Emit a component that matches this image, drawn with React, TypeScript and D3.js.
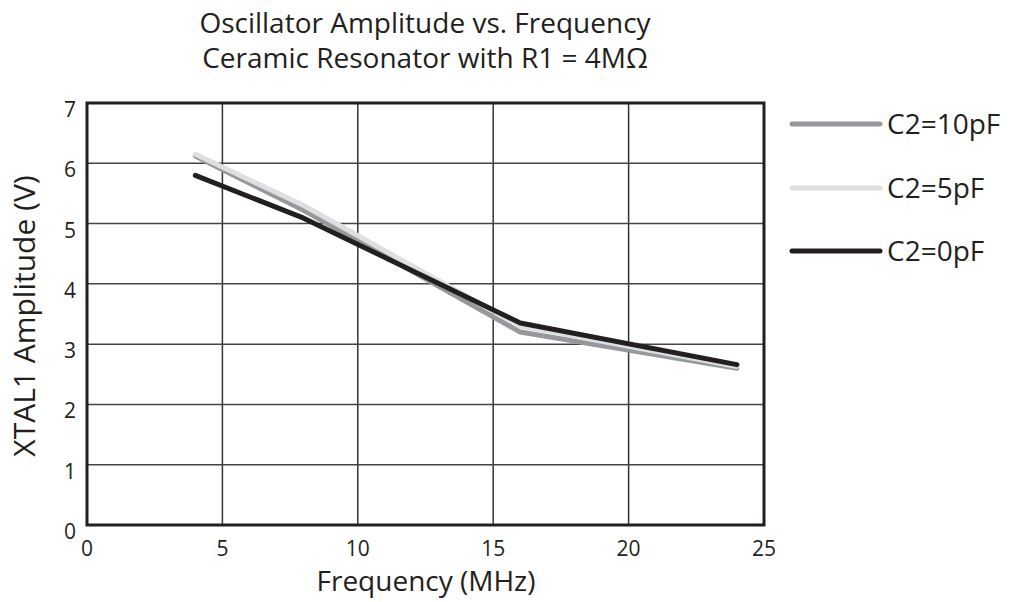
import React from "react";
import * as d3 from "d3";

const freqs10 = [4, 8, 16, 24];
const amp10 = [6.12, 5.22, 3.2, 2.6];
const freqs5 = [4, 8, 16, 24];
const amp5 = [6.15, 5.3, 3.3, 2.63];
const freqs0 = [4, 8, 16, 24];
const amp0 = [5.8, 5.09, 3.35, 2.66];
const seriesNames = ["C2=10pF", "C2=5pF", "C2=0pF"];
const seriesColors = ["#97989b", "#dedfe1", "#231f20"];
const xTicks = [0, 5, 10, 15, 20, 25];
const yTicks = [0, 1, 2, 3, 4, 5, 6, 7];
const titleLines = ["Oscillator Amplitude vs. Frequency", "Ceramic Resonator with R1 = 4MΩ"];
const xLabel = "Frequency (MHz)";
const yLabel = "XTAL1 Amplitude (V)";

export default function App() {
  const W = 1024, H = 602;
  const L = 87, R = 764, T = 103, B = 525;
  const x = d3.scaleLinear().domain([0, 25]).range([L, R]);
  const y = d3.scaleLinear().domain([0, 7]).range([B, T]);
  const line = d3.line<[number, number]>().x(d => x(d[0])).y(d => y(d[1]));
  const series = [
    freqs10.map((f, i) => [f, amp10[i]] as [number, number]),
    freqs5.map((f, i) => [f, amp5[i]] as [number, number]),
    freqs0.map((f, i) => [f, amp0[i]] as [number, number]),
  ];
  const font = "'Open Sans', 'Noto Sans', sans-serif";
  const legendY = [124, 188, 251];
  const ink = "#231f20";
  return (
    <svg width={W} height={H} style={{ position: "absolute", left: 0, top: 0, background: "#fff" }} fontFamily={font}>
      {titleLines.map((t, i) => (
        <text key={t} x={425} y={33 + i * 35} textAnchor="middle" fontSize={28} fill={ink}>{t}</text>
      ))}
      {xTicks.slice(1, -1).map(v => (
        <line key={"gx" + v} x1={x(v)} x2={x(v)} y1={T} y2={B} stroke="#333" strokeWidth={1.5} />
      ))}
      {yTicks.slice(1, -1).map(v => (
        <line key={"gy" + v} x1={L} x2={R} y1={y(v)} y2={y(v)} stroke="#444" strokeWidth={1.5} />
      ))}
      <rect x={L} y={T} width={R - L} height={B - T} fill="none" stroke={ink} strokeWidth={3} />
      {series.map((s, i) => (
        <path key={i} d={line(s) || ""} fill="none" stroke={seriesColors[i]} strokeWidth={5} strokeLinecap="round" strokeLinejoin="round" />
      ))}
      {xTicks.map(v => (
        <text key={"tx" + v} x={x(v)} y={556} textAnchor="middle" fontSize={21} fill={ink}>{v}</text>
      ))}
      {yTicks.map(v => (
        <text key={"ty" + v} x={76} y={y(v) + 14} textAnchor="end" fontSize={21} fill={ink}>{v}</text>
      ))}
      <text x={426} y={591} textAnchor="middle" fontSize={28} fill={ink}>{xLabel}</text>
      <text transform={`translate(35,316) rotate(-90)`} textAnchor="middle" fontSize={30} fill={ink}>{yLabel}</text>
      {seriesNames.map((n, i) => (
        <g key={n}>
          <line x1={792} x2={880} y1={legendY[i]} y2={legendY[i]} stroke={seriesColors[i]} strokeWidth={5} strokeLinecap="round" />
          <text x={887} y={legendY[i] + 10} fontSize={28} fill={ink}>{n}</text>
        </g>
      ))}
    </svg>
  );
}
